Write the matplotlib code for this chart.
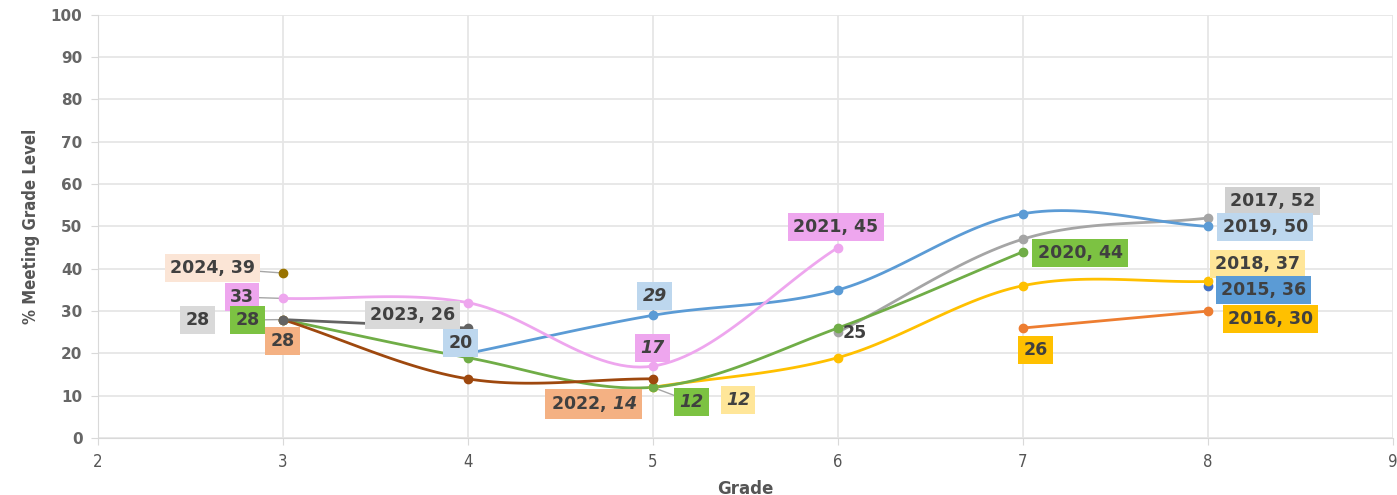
import numpy as np
import matplotlib
matplotlib.use("Agg")
import matplotlib.pyplot as plt

plt.rcParams["mathtext.fontset"] = "dejavusans"

# cohort lines: grades and % meeting grade level, keyed by final year
grades_2015 = [8]
pct_2015 = [36]
grades_2016 = [7, 8]
pct_2016 = [26, 30]
grades_2017 = [6, 7, 8]
pct_2017 = [25, 47, 52]
grades_2018 = [5, 6, 7, 8]
pct_2018 = [12, 19, 36, 37]
grades_2019 = [4, 5, 6, 7, 8]
pct_2019 = [20, 29, 35, 53, 50]
grades_2020 = [3, 4, 5, 6, 7]
pct_2020 = [28, 19, 12, 26, 44]
grades_2021 = [3, 4, 5, 6]
pct_2021 = [33, 32, 17, 45]
grades_2022 = [3, 4, 5]
pct_2022 = [28, 14, 14]
grades_2023 = [3, 4]
pct_2023 = [28, 26]
grades_2024 = [3]
pct_2024 = [39]

series = [
    (grades_2015, pct_2015, "#4472C4"),
    (grades_2016, pct_2016, "#ED7D31"),
    (grades_2017, pct_2017, "#A5A5A5"),
    (grades_2019, pct_2019, "#5B9BD5"),
    (grades_2018, pct_2018, "#FFC000"),
    (grades_2020, pct_2020, "#70AD47"),
    (grades_2021, pct_2021, "#EEA6EE"),
    (grades_2022, pct_2022, "#9E480E"),
    (grades_2023, pct_2023, "#636363"),
    (grades_2024, pct_2024, "#997300"),
]


def smooth(xs, ys, n=30):
    # catmull-rom style curve through the points, like a spreadsheet "smoothed line"
    xs = np.asarray(xs, float)
    ys = np.asarray(ys, float)
    if len(xs) < 3:
        return xs, ys
    px = np.concatenate([[2 * xs[0] - xs[1]], xs, [2 * xs[-1] - xs[-2]]])
    py = np.concatenate([[2 * ys[0] - ys[1]], ys, [2 * ys[-1] - ys[-2]]])
    outx, outy = [], []
    t = np.linspace(0, 1, n)
    for i in range(1, len(px) - 2):
        for arr, out in ((px, outx), (py, outy)):
            p0, p1, p2, p3 = arr[i - 1], arr[i], arr[i + 1], arr[i + 2]
            m1 = (p2 - p0) / 2
            m2 = (p3 - p1) / 2
            h00 = 2 * t**3 - 3 * t**2 + 1
            h10 = t**3 - 2 * t**2 + t
            h01 = -2 * t**3 + 3 * t**2
            h11 = t**3 - t**2
            out.extend(h00 * p1 + h10 * m1 + h01 * p2 + h11 * m2)
    return np.array(outx), np.array(outy)


fig = plt.figure(figsize=(13.97, 4.95), dpi=100)
ax = fig.add_axes([0.070, 0.115, 0.927, 0.855])

for xs, ys, c in series:
    sx, sy = smooth(xs, ys)
    ax.plot(sx, sy, color=c, lw=2, solid_capstyle="round", zorder=3)
    ax.plot(xs, ys, "o", color=c, ms=6, zorder=4)

ax.set_xlim(2, 9)
ax.set_ylim(0, 100)
ax.set_xticks(range(2, 10))
ax.set_yticks(range(0, 101, 10))
ax.grid(True, color="#E6E6E6", lw=1.3)
ax.set_axisbelow(True)
for s in ["top", "right"]:
    ax.spines[s].set_visible(False)
ax.spines["left"].set_color("#D9D9D9")
ax.spines["bottom"].set_color("#D9D9D9")
ax.tick_params(length=5, color="#D9D9D9", pad=6)
for lab in ax.get_yticklabels():
    lab.set_fontsize(11)
    lab.set_fontweight("bold")
    lab.set_color("#666666")
for lab in ax.get_xticklabels():
    lab.set_fontsize(12)
    lab.set_color("#555555")
    lab.set_fontstretch("condensed")

ax.set_xlabel("Grade", fontsize=12, fontweight="bold", color="#555555", labelpad=6)
ax.set_ylabel("% Meeting Grade Level", fontsize=12, fontweight="bold", color="#555555",
              fontstretch="condensed", labelpad=8)

# data labels: text, anchor point, label centre, box colour, italic, leader line
labels = [
    ("2024, 39", (3, 39), (2.62, 40.2), "#FBE5D6", False, True),
    ("33", (3, 33), (2.78, 33.3), "#EEA6EE", False, True),
    ("28", (3, 28), (2.54, 27.9), "#D9D9D9", False, False),
    ("28", (3, 28), (2.81, 27.9), "#7CC242", False, True),
    ("28", (3, 28), (3.0, 22.9), "#F4B183", False, False),
    ("2023, 26", (4, 26), (3.70, 29.1), "#D9D9D9", False, False),
    ("20", (4, 20), (3.96, 22.5), "#BDD7EE", False, False),
    ("29", (5, 29), (5.01, 33.6), "#BDD7EE", True, True),
    ("17", (5, 17), (5.0, 21.3), "#EEA6EE", True, True),
    ("2022, $\\mathbfit{14}$", (5, 14), (4.68, 8.0), "#F4B183", False, False),
    ("12", (5, 12), (5.21, 8.5), "#7CC242", True, True),
    ("12", (5, 12), (5.46, 9.0), "#FFE699", True, False),
    ("2021, 45", (6, 45), (5.99, 49.9), "#EEA6EE", False, False),
    ("25", (6, 25), (6.09, 24.8), None, False, False),
    ("2020, 44", (7, 44), (7.31, 43.7), "#7CC242", False, False),
    ("26", (7, 26), (7.07, 20.8), "#FFC000", False, False),
    ("2017, 52", (8, 52), (8.35, 56.0), "#D0D0D0", False, False),
    ("2019, 50", (8, 50), (8.31, 49.9), "#BDD7EE", False, False),
    ("2018, 37", (8, 37), (8.27, 41.1), "#FFE699", False, False),
    ("2015, 36", (8, 36), (8.30, 35.0), "#5B9BD5", False, False),
    ("2016, 30", (8, 30), (8.34, 28.1), "#FFC000", False, False),
]

for text, pt, pos, box, italic, leader in labels:
    if leader:
        ax.plot([pos[0], pt[0]], [pos[1], pt[1]], color="#A6A6A6", lw=1, zorder=2)
    bbox = dict(boxstyle="square,pad=0.3", fc=box, ec="none") if box else None
    ax.text(pos[0], pos[1], text, ha="center", va="center", fontsize=12.5,
            fontweight="bold", fontstyle="italic" if italic else "normal",
            color="#404040", bbox=bbox, zorder=5)

fig.savefig("out.png", dpi=100)
